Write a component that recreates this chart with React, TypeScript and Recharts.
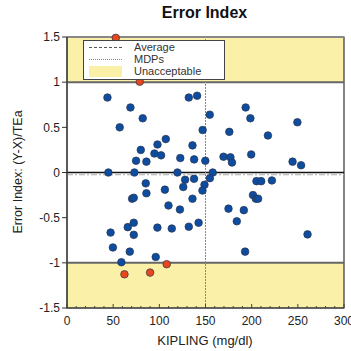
import {
  ScatterChart, Scatter, XAxis, YAxis,
  ReferenceArea, ReferenceLine,
} from "recharts";

const TITLE = "Error Index";
const X_LABEL = "KIPLING (mg/dl)";
const Y_LABEL = "Error Index: (Y-X)/TEa";

// points inside the acceptable band
const BLUE_X = [
  43.8, 68.7, 57.1, 82, 79.9, 98, 107, 74.8, 86, 94.7, 101.9, 122.7, 135.9, 137.7,
  131.9, 140.9, 44.8, 73, 119.6, 85.3, 86, 106, 127.9, 125.9, 137.6, 135.9, 70.5,
  72.3, 154.6, 146.9, 193.5, 198.6, 175.8, 217.6, 249.5, 149.8, 169.5, 177, 178.7,
  199.5, 244.3, 253.5, 157.8, 154.7, 148.9, 146.7, 205.2, 210.3, 221.9, 201.4,
  204.5, 207, 260.5, 174.9, 191.5, 183.9, 192.9, 122.3, 142.5, 131.9, 47.2, 49.7,
  58.9, 68, 65.8, 72.3, 72.3, 97.9, 113.5, 96.1, 109.9,
];
const BLUE_Y = [
  0.83, 0.72, 0.5, 0.6, 0.25, 0.31, 0.37, 0.13, 0.12, 0.21, 0.19, 0.16, 0.3, 0.145,
  0.83, 0.85, 0, 0, 0, -0.12, -0.23, -0.19, -0.08, -0.16, -0.07, -0.29, -0.29,
  -0.28, 0.64, 0.47, 0.72, 0.6, 0.45, 0.41, 0.556, 0.13, 0.175, 0.168, 0.11,
  0.2, 0.12, 0.08, 0, -0.063, -0.136, -0.2, -0.096, -0.096, -0.088, -0.25,
  -0.29, -0.29, -0.685, -0.4, -0.417, -0.54, -0.876, -0.41, -0.556, -0.6, -0.665, -0.83,
  -0.993, -0.876, -0.605, -0.556, -0.69, -0.61, -0.62, -0.935, -0.365,
];
// points in the unacceptable zones
const RED_X = [52.8, 78.8, 62.2, 90, 108];
const RED_Y = [1.49, 1.005, -1.127, -1.108, -1.015];

const X_TICKS = [0, 50, 100, 150, 200, 250, 300];
const X_MINOR = Array.from({ length: 31 }, (_, i) => i * 10);
const Y_TICKS = [-1.5, -1, -0.5, 0, 0.5, 1, 1.5];

const AVERAGE = -0.025;
const MDP = 150;
const LIMIT = 1;
const Y_MAX = 1.5;

const blueData = BLUE_X.map((x, i) => ({ x, y: BLUE_Y[i] }));
const redData = RED_X.map((x, i) => ({ x, y: RED_Y[i] }));

const FONT = "'Liberation Sans', Arial, sans-serif";
const YELLOW = "#FAF0A8";
const MDP_BLUE = "#6688e0";

const makeDot = (fill: string) => (p: any) => (
  <circle cx={p.cx} cy={p.cy} r={3.8} fill={fill} stroke="#2a3550" strokeWidth={0.7} />
);

const XTick = ({ x, y, payload }: any) => {
  const v = payload.value;
  const axisY = y - 6;
  const major = X_TICKS.includes(v);
  return (
    <g>
      <line x1={x} x2={x} y1={axisY} y2={axisY - (major ? 4 : 2)} stroke="#444" strokeWidth={1} />
      {major && (
        <text x={x} y={y + 11} textAnchor="middle" fontSize={12} fill="#222" fontFamily={FONT}>
          {v}
        </text>
      )}
    </g>
  );
};

const YLabel = () => (
  <text
    x={22}
    y={172}
    transform="rotate(-90 22 172)"
    textAnchor="middle"
    fontSize={12.5}
    fill="#222"
    fontFamily={FONT}
  >
    {Y_LABEL}
  </text>
);

const XLabel = () => (
  <text x={205} y={345} textAnchor="middle" fontSize={13} fill="#222" fontFamily={FONT}>
    {X_LABEL}
  </text>
);

const LegendRow = ({ top, children, label }: any) => (
  <div style={{ position: "absolute", left: 0, top, height: 12, width: "100%" }}>
    <div style={{ position: "absolute", left: 5, top: 0, width: 33, height: 12 }}>{children}</div>
    <span style={{ position: "absolute", left: 50, top: -1, fontSize: 11, color: "#333", lineHeight: "13px" }}>
      {label}
    </span>
  </div>
);

const LegendBox = () => (
  <div
    style={{
      position: "absolute", left: 83, top: 40, width: 140, height: 38,
      background: "#fff", border: "1px solid #444", fontFamily: FONT,
    }}
  >
    <LegendRow top={1} label="Average">
      <div style={{ marginTop: 5, borderTop: "1px dashed #555" }} />
    </LegendRow>
    <LegendRow top={13} label="MDPs">
      <div style={{ marginTop: 5, borderTop: `1px dotted ${MDP_BLUE}` }} />
    </LegendRow>
    <LegendRow top={25} label="Unacceptable">
      <div style={{ marginTop: 0, height: 11, background: YELLOW }} />
    </LegendRow>
  </div>
);

const App = () => (
  <div style={{ position: "absolute", left: 0, top: 0, width: 351, height: 351, background: "#fff", fontFamily: FONT }}>
    <div
      style={{
        position: "absolute", left: 0, width: 351, top: 4, textAlign: "center",
        paddingLeft: 58, boxSizing: "border-box", fontSize: 16, fontWeight: "bold", color: "#111",
      }}
    >
      {TITLE}
    </div>
    <ScatterChart width={351} height={351} margin={{ top: 37, right: 7, bottom: 0, left: 0 }}>
      <XAxis
        type="number"
        dataKey="x"
        domain={[0, 300]}
        ticks={X_MINOR}
        interval={0}
        tickLine={false}
        tickSize={4}
        tickMargin={2}
        tick={<XTick />}
        axisLine={{ stroke: "#333" }}
        height={43}
        label={<XLabel />}
      />
      <YAxis
        type="number"
        dataKey="y"
        domain={[-Y_MAX, Y_MAX]}
        ticks={Y_TICKS}
        interval={0}
        width={67}
        tickSize={5}
        tickMargin={2}
        tickLine={{ stroke: "#333" }}
        axisLine={{ stroke: "#333" }}
        tick={{ fontSize: 12, fill: "#222", fontFamily: FONT }}
        tickFormatter={(v: number) => String(v)}
        label={<YLabel />}
      />
      <ReferenceArea y1={LIMIT} y2={Y_MAX} fill={YELLOW} fillOpacity={1} stroke="none" />
      <ReferenceArea y1={-Y_MAX} y2={-LIMIT} fill={YELLOW} fillOpacity={1} stroke="none" />
      <ReferenceLine y={LIMIT} stroke="#666" strokeWidth={2} />
      <ReferenceLine y={-LIMIT} stroke="#666" strokeWidth={2} />
      <ReferenceLine y={Y_MAX} stroke="#888" strokeWidth={2} />
      <ReferenceLine y={AVERAGE} stroke="#aaa" strokeWidth={1} strokeDasharray="6 2 2 2" />
      <ReferenceLine y={0} stroke="#111" strokeWidth={1.3} />
      <ReferenceLine x={MDP} stroke={MDP_BLUE} strokeWidth={1} strokeDasharray="2 1" />
      <ReferenceArea x1={0} x2={300} y1={-Y_MAX} y2={Y_MAX} fill="none" stroke="#333" strokeWidth={1.2} />
      <Scatter data={blueData} shape={makeDot("#0D4C9E")} isAnimationActive={false} />
      <Scatter data={redData} shape={makeDot("#E8471C")} isAnimationActive={false} />
    </ScatterChart>
    <LegendBox />
  </div>
);

export default App;
